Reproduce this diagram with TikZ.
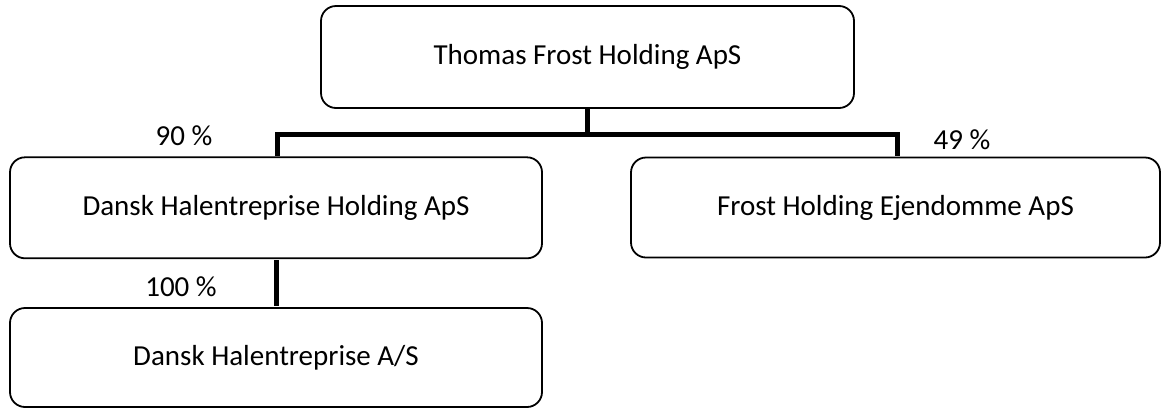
\documentclass[tikz,border=0pt]{standalone}
\usepackage{fontspec}
\setmainfont{Carlito}
\begin{document}
\begin{tikzpicture}[x=1pt,y=-1pt,
  orgbox/.style={draw=black,line width=1.8pt,rounded corners=15pt,fill=white,
    font=\fontsize{29}{33}\selectfont,inner sep=0pt},
  link/.style={line width=5pt,line join=miter,line cap=butt},
  pct/.style={font=\fontsize{29}{33}\selectfont,inner sep=0pt}]
\useasboundingbox (0,0) rectangle (1161,408);
\node[orgbox,minimum width=533pt,minimum height=102pt] (top) at (587.5,57) {Thomas Frost Holding ApS};
\node[orgbox,minimum width=532pt,minimum height=101pt] (left) at (276,207.8) {Dansk Halentreprise Holding ApS};
\node[orgbox,minimum width=529pt,minimum height=100pt] (right) at (895.5,207.5) {Frost Holding Ejendomme ApS};
\node[orgbox,minimum width=532pt,minimum height=99pt] (bottom) at (276,357.5) {Dansk Halentreprise A/S};
\coordinate (bar) at (0,134);
\draw[link] (top.south) -- (top.south |- bar);
\draw[link] (top.south |- bar) -| ([xshift=1pt,yshift=0.9pt]left.north);
\draw[link] (top.south |- bar) -| ([xshift=1.5pt,yshift=0.9pt]right.north);
\draw[link] ([yshift=-0.9pt]left.south) -- ([yshift=0.9pt]bottom.north);
\node[pct] (p90) at (184,136) {90 \%};
\node[pct] (p49) at (962,140) {49 \%};
\node[pct] (p100) at (181,287) {100 \%};
\end{tikzpicture}
\end{document}
